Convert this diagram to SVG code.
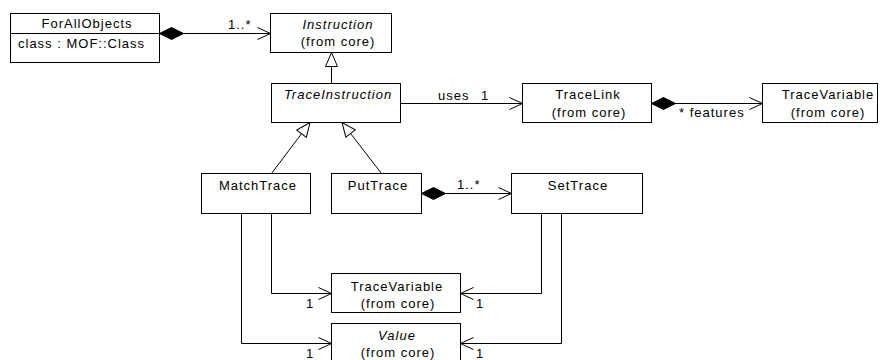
<svg xmlns="http://www.w3.org/2000/svg" width="880" height="360" viewBox="0 0 880 360">
  <style>
    .box { fill: #fff; stroke: #000; stroke-width: 1; }
    .t { font-family: "Liberation Sans", Arial, sans-serif; font-size: 13px; letter-spacing: 1px; fill: #000; }
    .c { text-anchor: middle; }
    .i { font-style: italic; }
    .ln { fill: none; stroke: #000; stroke-width: 1; }
    .nav { marker-end: url(#open); }
    .comp { marker-start: url(#diamond); marker-end: url(#open); }
    .gen { marker-end: url(#tri); }
  </style>
  <defs>
    <marker id="open" markerUnits="userSpaceOnUse" markerWidth="16" markerHeight="14" refX="13" refY="6" orient="auto" overflow="visible">
      <path d="M0,0 L13,6 L0,12" fill="none" stroke="#000" stroke-width="1"/>
    </marker>
    <marker id="diamond" markerUnits="userSpaceOnUse" markerWidth="26" markerHeight="14" refX="0" refY="6" orient="auto" overflow="visible">
      <path d="M0,6 L12,0 L24,6 L12,12 Z" fill="#000" stroke="#000" stroke-width="1"/>
    </marker>
    <marker id="tri" markerUnits="userSpaceOnUse" markerWidth="16" markerHeight="14" refX="14" refY="6" orient="auto" overflow="visible">
      <path d="M0,0 L14,6 L0,12 Z" fill="#fff" stroke="#000" stroke-width="1"/>
    </marker>
  </defs>

  <rect width="880" height="360" fill="#fff"/>

  <!-- connectors -->
  <g id="connectors">
    <path class="ln comp" d="M159.5,33.5 H270.5"/>
    <text class="t" x="228" y="29">1..*</text>

    <path class="ln gen" d="M331.5,83.5 V52.5"/>

    <path class="ln nav" d="M400.5,103.5 H522.5"/>
    <text class="t" x="438" y="100">uses</text>
    <text class="t" x="481" y="100">1</text>

    <path class="ln comp" d="M651.5,103.5 H762.5"/>
    <text class="t" x="679" y="117">* features</text>

    <path class="ln gen" d="M271.5,173.5 L310,122.5"/>
    <path class="ln gen" d="M381.5,173.5 L342,122.5"/>

    <path class="ln comp" d="M421.5,193.5 H511.5"/>
    <text class="t" x="457" y="189">1..*</text>

    <path class="ln nav" d="M271.5,213.5 V293.5 H331.5"/>
    <text class="t" x="306" y="308">1</text>
    <path class="ln nav" d="M241.5,213.5 V343.5 H331.5"/>
    <text class="t" x="306" y="358">1</text>

    <path class="ln nav" d="M541.5,213.5 V293.5 H460.5"/>
    <text class="t" x="476" y="308">1</text>
    <path class="ln nav" d="M561.5,213.5 V343.5 H460.5"/>
    <text class="t" x="476" y="358">1</text>
  </g>

  <!-- classes -->
  <g id="ForAllObjects">
    <rect class="box" x="10.5" y="13.5" width="149" height="49"/>
    <line class="ln" x1="10.5" y1="33.5" x2="159.5" y2="33.5"/>
    <text class="t c" x="87" y="28">ForAllObjects</text>
    <text class="t" x="18" y="48">class : MOF::Class</text>
  </g>

  <g id="Instruction">
    <rect class="box" x="270.5" y="13.5" width="121" height="39"/>
    <text class="t c i" x="338" y="29">Instruction</text>
    <text class="t c" x="338" y="46">(from core)</text>
  </g>

  <g id="TraceInstruction">
    <rect class="box" x="271.5" y="83.5" width="129" height="39"/>
    <text class="t c i" x="338" y="99">TraceInstruction</text>
  </g>

  <g id="TraceLink">
    <rect class="box" x="522.5" y="83.5" width="129" height="39"/>
    <text class="t c" x="588" y="99">TraceLink</text>
    <text class="t c" x="589" y="117">(from core)</text>
  </g>

  <g id="TraceVariableTop">
    <rect class="box" x="762.5" y="83.5" width="115" height="39"/>
    <text class="t c" x="828" y="99">TraceVariable</text>
    <text class="t c" x="828" y="117">(from core)</text>
  </g>

  <g id="MatchTrace">
    <rect class="box" x="201.5" y="173.5" width="109" height="40"/>
    <text class="t c" x="258" y="190">MatchTrace</text>
  </g>

  <g id="PutTrace">
    <rect class="box" x="331.5" y="173.5" width="90" height="40"/>
    <text class="t c" x="378" y="190">PutTrace</text>
  </g>

  <g id="SetTrace">
    <rect class="box" x="511.5" y="173.5" width="131" height="40"/>
    <text class="t c" x="578" y="190">SetTrace</text>
  </g>

  <g id="TraceVariable">
    <rect class="box" x="331.5" y="273.5" width="129" height="39"/>
    <text class="t c" x="397" y="291">TraceVariable</text>
    <text class="t c" x="398" y="308">(from core)</text>
  </g>

  <g id="Value">
    <rect class="box" x="331.5" y="323.5" width="129" height="40"/>
    <text class="t c i" x="397" y="340">Value</text>
    <text class="t c" x="398" y="357">(from core)</text>
  </g>
</svg>
